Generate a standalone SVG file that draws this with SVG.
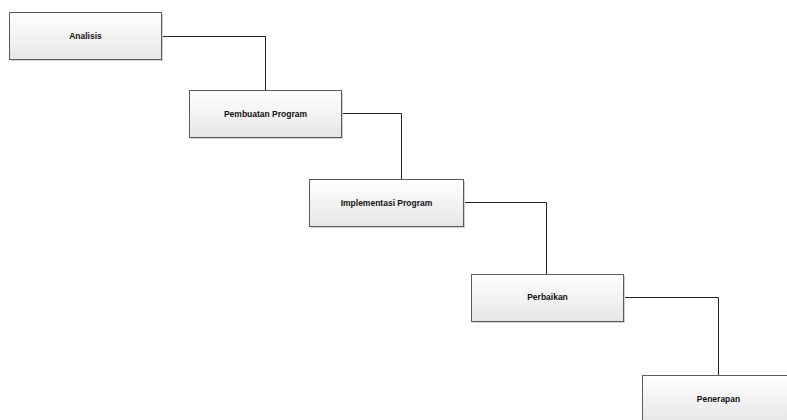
<svg xmlns="http://www.w3.org/2000/svg" width="787" height="420" viewBox="0 0 787 420">
<defs>
<linearGradient id="g" x1="0" y1="0" x2="0" y2="1">
<stop offset="0" stop-color="#ffffff"/>
<stop offset="1" stop-color="#e6e6e6"/>
</linearGradient>
<style>
.box{fill:url(#g);stroke:#5a5a5a;stroke-width:1}
.sh{fill:#d0d0d0}
.lbl{font-family:"Liberation Sans",Arial,sans-serif;font-weight:bold;font-size:8.5px;fill:#111;text-anchor:middle;dominant-baseline:central}
.con{fill:none;stroke:#222;stroke-width:1}
</style>
</defs>
<rect width="787" height="420" fill="#ffffff"/>
<g id="connectors">
<path class="con" d="M161.5,36.5 H265.5 V90"/>
<path class="con" d="M342.5,113.5 H401.5 V179"/>
<path class="con" d="M463.5,202.5 H546.5 V274"/>
<path class="con" d="M623.5,297.5 H718.5 V375"/>
</g>
<g id="analisis">
<rect class="sh" x="11" y="14" width="152" height="47"/>
<rect class="box" x="9.5" y="12.5" width="152" height="47"/>
<text class="lbl" x="85.5" y="36">Analisis</text>
</g>
<g id="pembuatan">
<rect class="sh" x="191" y="92" width="152" height="47"/>
<rect class="box" x="189.5" y="90.5" width="152" height="47"/>
<text class="lbl" x="265.5" y="114">Pembuatan Program</text>
</g>
<g id="implementasi">
<rect class="sh" x="311" y="181" width="154" height="47"/>
<rect class="box" x="309.5" y="179.5" width="154" height="47"/>
<text class="lbl" x="386.5" y="203">Implementasi Program</text>
</g>
<g id="perbaikan">
<rect class="sh" x="473" y="276" width="152" height="47"/>
<rect class="box" x="471.5" y="274.5" width="152" height="47"/>
<text class="lbl" x="547.5" y="297">Perbaikan</text>
</g>
<g id="penerapan">
<rect class="sh" x="644" y="377" width="152" height="47"/>
<rect class="box" x="642.5" y="375.5" width="152" height="47"/>
<text class="lbl" x="718.5" y="399">Penerapan</text>
</g>
</svg>
